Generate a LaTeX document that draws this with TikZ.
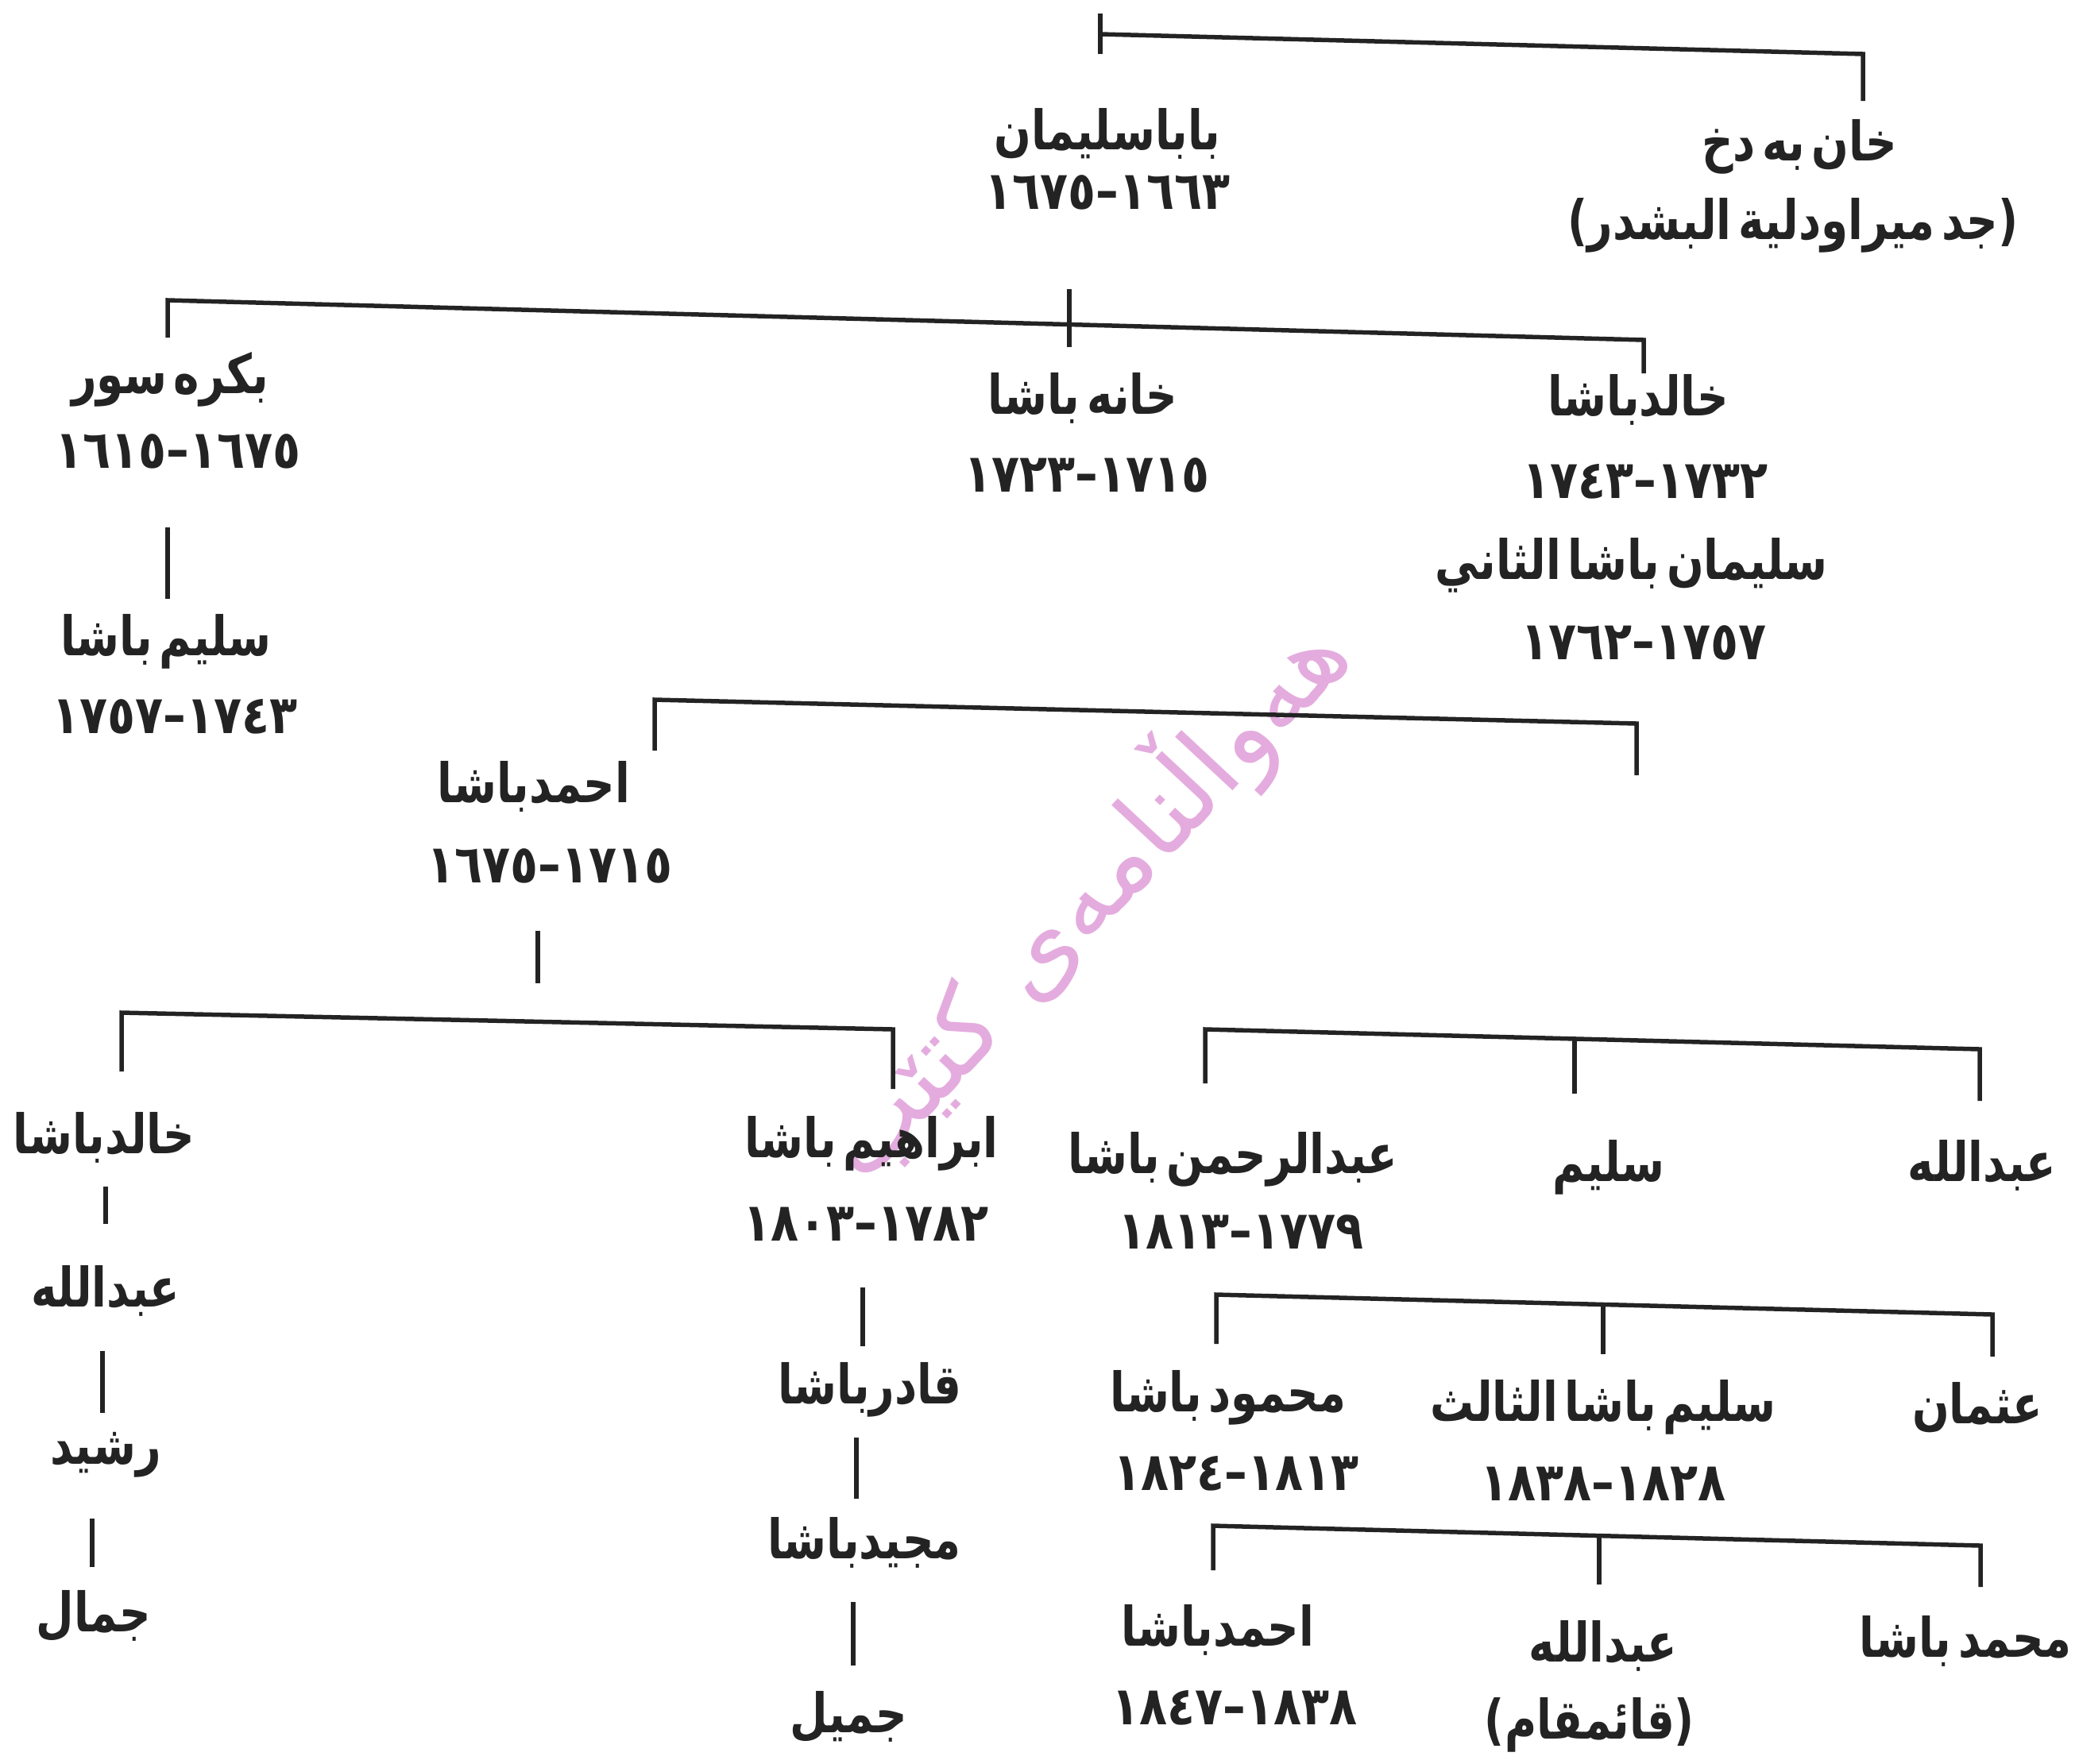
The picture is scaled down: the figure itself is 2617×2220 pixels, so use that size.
\documentclass[tikz,border=0pt]{standalone}
\usepackage{fontspec}
\TeXXeTstate=1
\newfontfamily\arbname[Script=Arabic,FakeStretch=0.8,WordSpace=0.45]{DejaVu Sans}
\newfontfamily\arbdate[Script=Arabic,FakeStretch=0.86]{DejaVu Sans}
\newfontfamily\arbwm[Script=Arabic]{DejaVu Sans}
\definecolor{ink}{RGB}{35,35,35}
\definecolor{wmark}{RGB}{228,172,222}
\tikzset{
  nm/.style={font=\arbname\bfseries\fontsize{19.5}{22}\selectfont, inner sep=0pt, text=ink},
  dt/.style={font=\arbdate\bfseries\fontsize{19}{22}\selectfont, inner sep=0pt, text=ink},
  conn/.style={draw=ink, line width=0.55mm, line cap=butt, line join=miter},
}
\begin{document}
\begin{tikzpicture}[x=0.1mm,y=-0.1mm]
\useasboundingbox (0,0) rectangle (2617,2220);
\fill[white] (0,0) rectangle (2617,2220);

% watermark
\node[rotate=47, text=wmark, font=\arbwm\fontsize{37}{40}\selectfont, inner sep=0pt] (wm) at (1362,1130) {\beginR هەواڵنامەی کتێب\endR};

% names and dates
\node[nm] (baba) at (1394,168) {\beginR باباسليمان\endR};
\node[dt] (babad) at (1394,242) {١٦٦٣–١٦٧٥};
\node[nm] (khan) at (2265,185) {\beginR خان به دخ\endR};
\node[nm] (khanp) at (2257,284) {\beginR (جد ميراودلية البشدر)\endR};

\node[nm] (bakra) at (214,478) {\beginR بكره سور\endR};
\node[dt] (bakrad) at (224,568) {١٦٧٥–١٦١٥};
\node[nm] (khane) at (1363,501) {\beginR خانه باشا\endR};
\node[dt] (khaned) at (1368,598) {١٧١٥–١٧٢٣};
\node[nm] (khalid) at (2062,503) {\beginR خالدباشا\endR};
\node[dt] (khalidd) at (2071,606) {١٧٣٢–١٧٤٣};
\node[nm] (sulii) at (2054,712) {\beginR سليمان باشا الثاني\endR};
\node[dt] (suliid) at (2069,809) {١٧٥٧–١٧٦٢};
\node[nm] (salim) at (209,808) {\beginR سليم باشا\endR};
\node[dt] (salimd) at (220,902) {١٧٤٣–١٧٥٧};

\node[nm] (ahmad) at (672,990) {\beginR احمدباشا\endR};
\node[dt] (ahmadd) at (692,1090) {١٧١٥–١٦٧٥};

\node[nm] (khalidb) at (131,1432) {\beginR خالدباشا\endR};
\node[nm] (abda) at (133,1625) {\beginR عبدالله\endR};
\node[nm] (rashid) at (133,1832) {\beginR رشيد\endR};
\node[nm] (jamal) at (118,2035) {\beginR جمال\endR};

\node[nm] (ibrahim) at (1097,1440) {\beginR ابراهيم باشا\endR};
\node[dt] (ibrahimd) at (1090,1541) {١٧٨٢–١٨٠٣};
\node[nm] (qadir) at (1095,1750) {\beginR قادرباشا\endR};
\node[nm] (majid) at (1088,1942) {\beginR مجيدباشا\endR};
\node[nm] (jamil) at (1068,2162) {\beginR جميل\endR};

\node[nm] (abdrahman) at (1552,1460) {\beginR عبدالرحمن باشا\endR};
\node[dt] (abdrahmand) at (1562,1551) {١٧٧٩–١٨١٣};
\node[nm] (salimb) at (2025,1470) {\beginR سليم\endR};
\node[nm] (abdb) at (2495,1467) {\beginR عبدالله\endR};

\node[nm] (mahmud) at (1546,1760) {\beginR محمود باشا\endR};
\node[dt] (mahmudd) at (1556,1855) {١٨١٣–١٨٢٤};
\node[nm] (salimiii) at (2018,1772) {\beginR سليم باشا الثالث\endR};
\node[dt] (salimiiid) at (2018,1868) {١٨٢٨–١٨٣٨};
\node[nm] (uthman) at (2489,1772) {\beginR عثمان\endR};

\node[nm] (ahmadb) at (1533,2052) {\beginR احمدباشا\endR};
\node[dt] (ahmadbd) at (1554,2150) {١٨٣٨–١٨٤٧};
\node[nm] (abdc) at (2018,2072) {\beginR عبدالله\endR};
\node[nm] (qaim) at (2001,2172) {\beginR (قائمقام)\endR};
\node[nm] (muhammad) at (2474,2066) {\beginR محمد باشا\endR};

% connector coordinates
\coordinate (t0) at (1385,17);  \coordinate (t1) at (1385,68);
\coordinate (t2) at (1385,43);  \coordinate (t3) at (2345,68);  \coordinate (t4) at (2345,127);

\coordinate (a0) at (211,425);  \coordinate (a1) at (211,378);
\coordinate (a2) at (2069,428); \coordinate (a3) at (2069,470);
\coordinate (a4) at (1346,364); \coordinate (a5) at (1346,437);

\coordinate (s0) at (211,664);  \coordinate (s1) at (211,754);

\coordinate (b0) at (824,945);  \coordinate (b1) at (824,881);
\coordinate (b2) at (2060,911); \coordinate (b3) at (2060,976);

\coordinate (h0) at (677,1172); \coordinate (h1) at (677,1238);

\coordinate (c0) at (153,1349); \coordinate (c1) at (153,1275);
\coordinate (c2) at (1124,1296);\coordinate (c3) at (1124,1371);

\coordinate (l0) at (133,1494); \coordinate (l1) at (133,1541);
\coordinate (l2) at (129,1701); \coordinate (l3) at (129,1779);
\coordinate (l4) at (116,1912); \coordinate (l5) at (116,1973);

\coordinate (m0) at (1086,1621);\coordinate (m1) at (1086,1695);
\coordinate (m2) at (1078,1810);\coordinate (m3) at (1078,1887);
\coordinate (m4) at (1074,2017);\coordinate (m5) at (1074,2097);

\coordinate (d0) at (1517,1364);\coordinate (d1) at (1517,1296);
\coordinate (d2) at (2492,1321);\coordinate (d3) at (2492,1386);
\coordinate (d4) at (1982,1308);\coordinate (d5) at (1982,1377);

\coordinate (e0) at (1531,1692);\coordinate (e1) at (1531,1630);
\coordinate (e2) at (2508,1655);\coordinate (e3) at (2508,1708);
\coordinate (e4) at (2018,1642);\coordinate (e5) at (2018,1705);

\coordinate (f0) at (1527,1977);\coordinate (f1) at (1527,1921);
\coordinate (f2) at (2493,1946);\coordinate (f3) at (2493,1998);
\coordinate (f4) at (2013,1934);\coordinate (f5) at (2013,1995);

% connectors
\draw[conn] (t0) -- (t1);
\draw[conn] (t2) -- (t3) -- (t4);
\draw[conn] (a0) -- (a1) -- (a2) -- (a3);
\draw[conn] (a4) -- (a5);
\draw[conn] (s0) -- (s1);
\draw[conn] (b0) -- (b1) -- (b2) -- (b3);
\draw[conn] (h0) -- (h1);
\draw[conn] (c0) -- (c1) -- (c2) -- (c3);
\draw[conn] (l0) -- (l1);
\draw[conn] (l2) -- (l3);
\draw[conn] (l4) -- (l5);
\draw[conn] (m0) -- (m1);
\draw[conn] (m2) -- (m3);
\draw[conn] (m4) -- (m5);
\draw[conn] (d0) -- (d1) -- (d2) -- (d3);
\draw[conn] (d4) -- (d5);
\draw[conn] (e0) -- (e1) -- (e2) -- (e3);
\draw[conn] (e4) -- (e5);
\draw[conn] (f0) -- (f1) -- (f2) -- (f3);
\draw[conn] (f4) -- (f5);
\end{tikzpicture}
\end{document}
